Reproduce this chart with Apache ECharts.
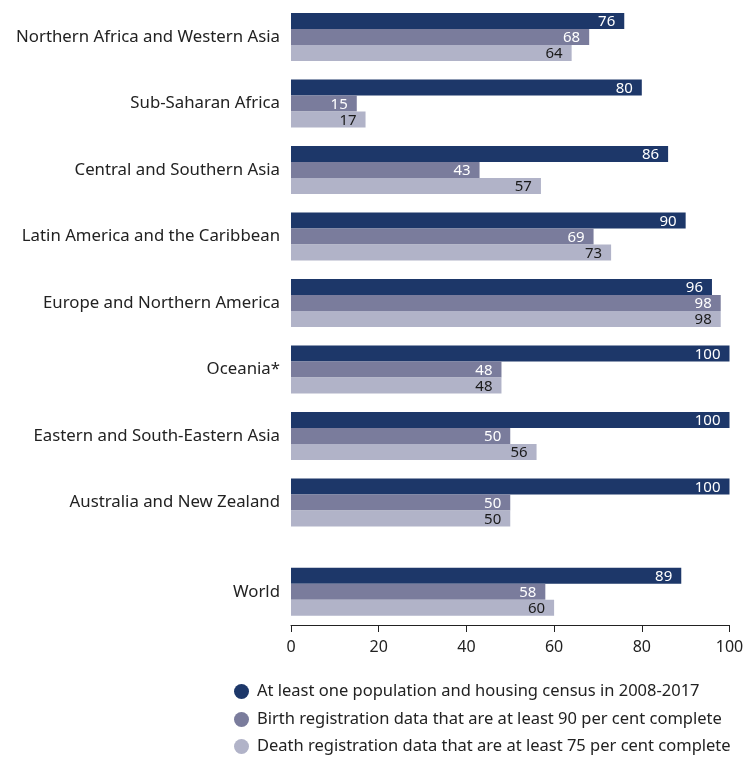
<!DOCTYPE html>
<html>
<head>
<meta charset="utf-8">
<script src="https://cdn.jsdelivr.net/npm/echarts@6/dist/echarts.min.js"></script>
<style>html,body{margin:0;padding:0;background:#fff;}#c{width:748px;height:757px;}</style>
</head>
<body>
<div id="c"></div>
<script>
const regions = ["Northern Africa and Western Asia","Sub-Saharan Africa","Central and Southern Asia","Latin America and the Caribbean","Europe and Northern America","Oceania*","Eastern and South-Eastern Asia","Australia and New Zealand"];
const worldCat = ["World"];
const seriesNames = ["At least one population and housing census in 2008-2017","Birth registration data that are at least 90 per cent complete","Death registration data that are at least 75 per cent complete"];
const census = [76,80,86,90,96,100,100,100];
const birth = [68,15,43,69,98,48,50,50];
const death = [64,17,57,73,98,48,56,50];
const worldCensus = [89];
const worldBirth = [58];
const worldDeath = [60];
const xTicks = [0,20,40,60,80,100];

const colors = ["#1d3769","#7a7c9c","#b1b3c8"];
const labelColors = ["#ffffff","#ffffff","#1a1a1a"];
const FONT = "Noto Sans";

function mkSeries(name, data, idx, gi){
  return {
    name: name, type: "bar", data: data,
    xAxisIndex: gi, yAxisIndex: gi,
    barWidth: 16, barGap: "0%",
    itemStyle: {color: colors[idx]},
    label: {show: true, position: "insideRight", offset: [-4, 1], color: labelColors[idx], fontFamily: FONT, fontSize: 15},
    emphasis: {disabled: true}
  };
}

function mkLegend(i, top){
  return {
    orient: "vertical", left: 234, top: top, padding: 0,
    icon: "circle", itemWidth: 15, itemHeight: 15,
    textStyle: {fontFamily: FONT, fontSize: 16.5, color: "#222", padding: [0,0,0,3]},
    data: [seriesNames[i]]
  };
}

const chart = echarts.init(document.getElementById("c"), null, {renderer: "canvas"});
const catAxisBase = {
  type: "category", inverse: true,
  axisLine: {show: false}, axisTick: {show: false},
  axisLabel: {color: "#222", fontFamily: FONT, fontSize: 16.8, margin: 11}
};
chart.setOption({
  animation: false,
  textStyle: {fontFamily: FONT},
  legend: [mkLegend(0, 683), mkLegend(1, 711), mkLegend(2, 738)],
  grid: [
    {left: 291, right: 18.5, top: 3.75, height: 532},
    {left: 291, right: 18.5, top: 558.5, height: 66.5}
  ],
  xAxis: [
    {gridIndex: 0, type: "value", min: 0, max: 100, interval: 20, show: false, splitLine: {show: false}},
    {gridIndex: 1, type: "value", min: 0, max: 100, interval: 20,
     splitLine: {show: false},
     axisLine: {show: true, lineStyle: {color: "#222", width: 1}},
     axisTick: {show: true, length: 7, lineStyle: {color: "#222"}},
     axisLabel: {color: "#222", fontFamily: FONT, fontSize: 16, margin: 14,
       formatter: function(v){ return xTicks.indexOf(v) >= 0 ? String(v) : ""; }}}
  ],
  yAxis: [
    Object.assign({gridIndex: 0, data: regions}, catAxisBase),
    Object.assign({gridIndex: 1, data: worldCat}, catAxisBase)
  ],
  series: [
    mkSeries(seriesNames[0], census, 0, 0),
    mkSeries(seriesNames[1], birth, 1, 0),
    mkSeries(seriesNames[2], death, 2, 0),
    mkSeries(seriesNames[0], worldCensus, 0, 1),
    mkSeries(seriesNames[1], worldBirth, 1, 1),
    mkSeries(seriesNames[2], worldDeath, 2, 1)
  ]
});
</script>
</body>
</html>
